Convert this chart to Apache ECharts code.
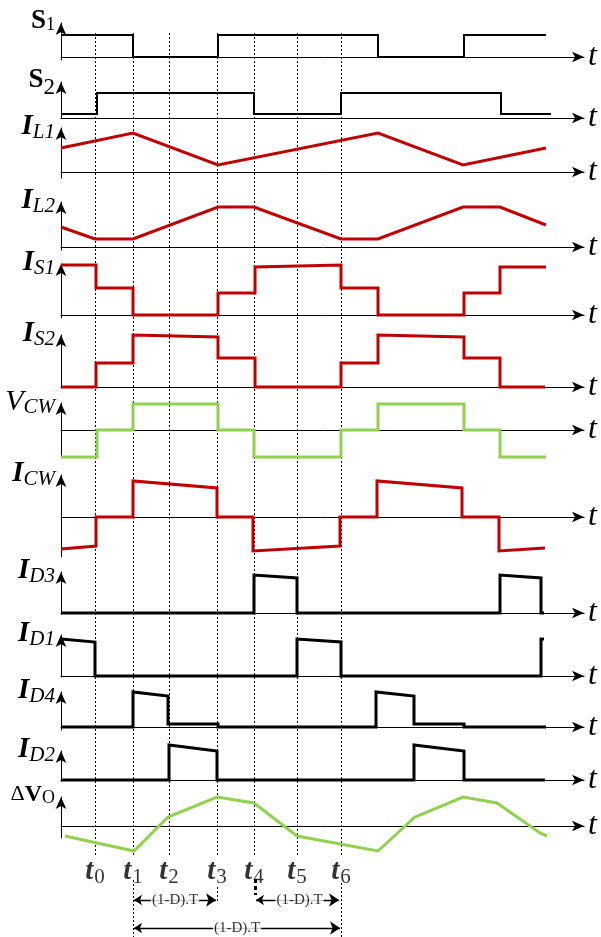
<!DOCTYPE html>
<html>
<head>
<meta charset="utf-8">
<script src="https://cdn.jsdelivr.net/npm/echarts@6/dist/echarts.min.js"></script>
<style>
html, body { margin: 0; padding: 0; background: #fff; }
#chart { width: 601px; height: 937px; }
</style>
</head>
<body>
<div id="chart"></div>
<script>
// switching instants t0..t6 (time axis units)
var tMarks = [95, 133, 169, 217, 254, 297, 341];
var tSubs = ['0', '1', '2', '3', '4', '5', '6'];

// waveforms, [time, amplitude]
var s1 = [[61, 22], [133, 22], [133, 0], [218, 0], [218, 22], [378, 22], [378, 0], [464, 0], [464, 22], [546, 22]];
var s2 = [[61, 4], [97, 4], [97, 25], [254, 25], [254, 4], [341, 4], [341, 25], [501, 25], [501, 4], [551, 4]];
var iL1 = [[61, 24], [133, 39], [218, 7], [378, 39], [463, 7], [546, 24]];
var iL2 = [[61, 20], [95, 8], [133, 8], [218, 40], [254, 40], [341, 8], [378, 8], [463, 40], [500, 40], [546, 22]];
var iS1 = [[61, 50], [96, 50], [96, 27], [133, 27], [133, 0], [218, 0], [218, 22], [255, 22], [255, 48], [341, 50],
           [341, 27], [378, 27], [378, 0], [464, 0], [464, 22], [500, 22], [500, 48], [546, 48]];
var iS2 = [[61, 0], [96, 0], [96, 24], [133, 24], [133, 52], [218, 50], [218, 29], [255, 29], [255, 0], [341, 0],
           [341, 24], [378, 24], [378, 52], [464, 50], [464, 29], [500, 29], [500, 0], [545, 0]];
var vCW = [[61, -27], [97, -27], [97, 0], [133, 0], [133, 26], [218, 26], [218, 0], [254, 0], [254, -27], [341, -27],
           [341, 0], [378, 0], [378, 26], [464, 26], [464, 0], [500, 0], [500, -27], [546, -27]];
var iCW = [[61, -32], [96, -29], [96, 0], [133, 0], [133, 36], [217, 29], [217, 0], [253, 0], [253, -34], [340, -29],
           [340, 0], [377, 0], [377, 36], [462, 29], [462, 0], [499, 0], [499, -34], [545, -31]];
var iD3 = [[61, 0], [254, 0], [254, 38], [297, 35], [297, 0], [500, 0], [500, 38], [541, 35], [541, 0], [544, 0]];
var iD1 = [[61, 37], [95, 34], [95, 0], [297, 0], [297, 37], [341, 34], [341, 0], [541, 0], [541, 37], [544, 37]];
var iD4 = [[61, 0], [133, 0], [133, 35], [168, 31], [168, 3], [218, 3], [218, 0], [376, 0], [376, 35], [414, 31],
           [414, 3], [464, 3], [464, 0], [546, 0]];
var iD2 = [[61, 0], [169, 0], [169, 35], [217, 29], [217, 0], [414, 0], [414, 35], [464, 29], [464, 0], [545, 0]];
var dVo = [[65, -10], [134, -25], [168, 9], [217, 29], [254, 23], [297, -10], [378, -25], [415, 9], [463, 29],
           [497, 23], [540, -7], [547, -10]];

var dimText = '(1-D).T';

var FONT = 'Liberation Serif';
var RED = '#c00000', GREEN = '#92d050', BLACK = '#000';

// row layout: y of arrow tip, baseline, bottom of the vertical axis
var rows = [
    { label: '{b|S}{s|1}', data: s1, color: BLACK, width: 2, tip: 18, base: 57, bottom: 60 },
    { label: '{b|S}{s2|2}', data: s2, color: BLACK, width: 2, tip: 77, base: 118, bottom: 118 },
    { label: '{bi|I}{si|L1}', data: iL1, color: RED, width: 3, tip: 123, base: 172, bottom: 178 },
    { label: '{bi|I}{si|L2}', data: iL2, color: RED, width: 3, tip: 197, base: 247, bottom: 250 },
    { label: '{bi|I}{si|S1}', data: iS1, color: RED, width: 3, tip: 259, base: 315, bottom: 318 },
    { label: '{bi|I}{si|S2}', data: iS2, color: RED, width: 3, tip: 330, base: 387, bottom: 388 },
    { label: '{vi|V}{si|CW}', data: vCW, color: GREEN, width: 3, tip: 398, base: 430, bottom: 458 },
    { label: '{bi|I}{si|CW}', data: iCW, color: RED, width: 3, tip: 470, base: 517, bottom: 557 },
    { label: '{bi|I}{si|D3}', data: iD3, color: BLACK, width: 3, tip: 567, base: 613, bottom: 614 },
    { label: '{bi|I}{si|D1}', data: iD1, color: BLACK, width: 3, tip: 630, base: 676, bottom: 677 },
    { label: '{bi|I}{si|D4}', data: iD4, color: BLACK, width: 3, tip: 687, base: 727, bottom: 730 },
    { label: '{bi|I}{si|D2}', data: iD2, color: BLACK, width: 3, tip: 746, base: 780, bottom: 781 },
    { label: '{d|\u0394}{bv|V}{o|O}', data: dVo, color: GREEN, width: 3, tip: 792, base: 826, bottom: 838 }
];

var rich = {
    b: { fontFamily: FONT, fontWeight: 'bold', fontSize: 27, lineHeight: 26, color: BLACK, verticalAlign: 'top' },
    s: { fontFamily: FONT, fontSize: 18, lineHeight: 18, padding: [8, 0, 0, 0], color: BLACK, verticalAlign: 'top' },
    s2: { fontFamily: FONT, fontSize: 23, lineHeight: 22, padding: [9, 0, 0, 0], color: BLACK, verticalAlign: 'top' },
    bi: { fontFamily: FONT, fontWeight: 'bold', fontStyle: 'italic', fontSize: 29, lineHeight: 28, color: BLACK, verticalAlign: 'top' },
    vi: { fontFamily: FONT, fontStyle: 'italic', fontSize: 30, lineHeight: 28, color: BLACK, verticalAlign: 'top' },
    si: { fontFamily: FONT, fontStyle: 'italic', fontSize: 21, lineHeight: 20, padding: [10, 0, 0, 0], color: BLACK, verticalAlign: 'top' },
    d: { fontFamily: FONT, fontSize: 22, lineHeight: 24, color: BLACK, verticalAlign: 'top' },
    bv: { fontFamily: FONT, fontWeight: 'bold', fontSize: 24, lineHeight: 24, color: BLACK, verticalAlign: 'top' },
    o: { fontFamily: FONT, fontSize: 18, lineHeight: 18, padding: [6, 0, 0, 0], color: BLACK, verticalAlign: 'top' }
};

var X0 = 61, X1 = 584;
var grids = [], xAxes = [], yAxes = [], series = [];

rows.forEach(function (r, i) {
    var top = r.tip + 5;
    grids.push({ left: X0, right: 601 - X1, top: top, height: r.bottom - top });
    xAxes.push({
        type: 'value', gridIndex: i, min: X0, max: X1,
        axisLine: { onZero: true, symbol: ['none', 'arrow'], symbolSize: [8, 12], lineStyle: { color: BLACK, width: 1 } },
        axisTick: { show: false }, axisLabel: { show: false }, splitLine: { show: false },
        name: 't', nameLocation: 'end', nameGap: 4,
        nameTextStyle: { fontFamily: FONT, fontStyle: 'italic', fontSize: 32, color: BLACK, verticalAlign: 'middle', padding: [0, 0, 0, 0] }
    });
    yAxes.push({
        type: 'value', gridIndex: i, min: -(r.bottom - r.base), max: r.base - top,
        axisLine: { show: true, onZero: false, symbol: ['none', 'arrow'], symbolSize: [8, 12], lineStyle: { color: BLACK, width: 1 } },
        axisTick: { show: false }, axisLabel: { show: false }, splitLine: { show: false },
        name: r.label, nameLocation: 'end', nameGap: 2,
        nameTextStyle: { align: 'right', verticalAlign: 'middle', padding: [0, 6, 0, 0], rich: rich }
    });
    series.push({
        type: 'line', xAxisIndex: i, yAxisIndex: i, data: r.data, symbol: 'none', z: 3, clip: false,
        lineStyle: { color: r.color, width: r.width, join: 'miter' }
    });
});

// overlay grid over the whole picture for the dotted time markers and notes
var ov = rows.length;
grids.push({ left: X0, right: 601 - X1, top: 0, height: 937 });
xAxes.push({ type: 'value', gridIndex: ov, min: X0, max: X1, show: false });
yAxes.push({ type: 'value', gridIndex: ov, min: 0, max: 937, inverse: true, show: false });

var dotTop = 33, dotBottom = 856, labelY = 871, dimY1 = 900, dimY2 = 928;

var dotted = tMarks.map(function (t) { return { coords: [[t, dotTop], [t, dotBottom]] }; });
dotted.push({ coords: [[tMarks[1], 880], [tMarks[1], 937]] });
dotted.push({ coords: [[tMarks[3], 887], [tMarks[3], 902]] });
dotted.push({ coords: [[tMarks[6], 883], [tMarks[6], 937]] });

series.push({
    type: 'lines', coordinateSystem: 'cartesian2d', xAxisIndex: ov, yAxisIndex: ov, z: 1,
    silent: true, symbol: 'none',
    lineStyle: { color: BLACK, width: 1, type: [2, 2], opacity: 1 },
    data: dotted
});
series.push({
    type: 'lines', coordinateSystem: 'cartesian2d', xAxisIndex: ov, yAxisIndex: ov, z: 1,
    silent: true, symbol: 'none',
    lineStyle: { color: BLACK, width: 3, type: [4, 3], opacity: 1 },
    data: [{ coords: [[tMarks[4] + 1, 879], [tMarks[4] + 1, 895]] }]
});

// (1-D).T dimension arrows
series.push({
    type: 'lines', coordinateSystem: 'cartesian2d', xAxisIndex: ov, yAxisIndex: ov, z: 2,
    silent: true, symbol: ['arrow', 'arrow'], symbolSize: [8, 10],
    lineStyle: { color: BLACK, width: 1.3, opacity: 1 },
    data: [
        { coords: [[tMarks[1] + 1, dimY1], [tMarks[3] - 1, dimY1]] },
        { coords: [[tMarks[4] + 2, dimY1], [tMarks[6] - 2, dimY1]] },
        { coords: [[tMarks[1] + 1, dimY2], [tMarks[6] - 1, dimY2]] }
    ]
});
series.push({
    type: 'scatter', xAxisIndex: ov, yAxisIndex: ov, z: 4, silent: true, symbolSize: 0,
    label: {
        show: true, position: 'inside', formatter: dimText,
        fontFamily: FONT, fontSize: 15, color: BLACK, backgroundColor: '#fff', padding: [0, 1]
    },
    data: [
        [(tMarks[1] + tMarks[3]) / 2, dimY1],
        [(tMarks[4] + tMarks[6]) / 2 + 2, dimY1],
        [(tMarks[1] + tMarks[6]) / 2, dimY2]
    ]
});

// t0..t6 labels
series.push({
    type: 'scatter', xAxisIndex: ov, yAxisIndex: ov, z: 4, silent: true, symbolSize: 0,
    label: {
        show: true, position: 'inside',
        formatter: function (p) { return '{t|t}{n|' + tSubs[p.dataIndex] + '}'; },
        rich: {
            t: { fontFamily: FONT, fontWeight: 'bold', fontStyle: 'italic', fontSize: 29, lineHeight: 28, color: BLACK, verticalAlign: 'top' },
            n: { fontFamily: FONT, fontSize: 21, lineHeight: 20, padding: [10, 0, 0, 1], color: BLACK, verticalAlign: 'top' }
        }
    },
    data: tMarks.map(function (t) { return [t, labelY]; })
});

var chart = echarts.init(document.getElementById('chart'));
chart.setOption({
    animation: false,
    backgroundColor: '#fff',
    grid: grids,
    xAxis: xAxes,
    yAxis: yAxes,
    series: series
});
</script>
</body>
</html>
